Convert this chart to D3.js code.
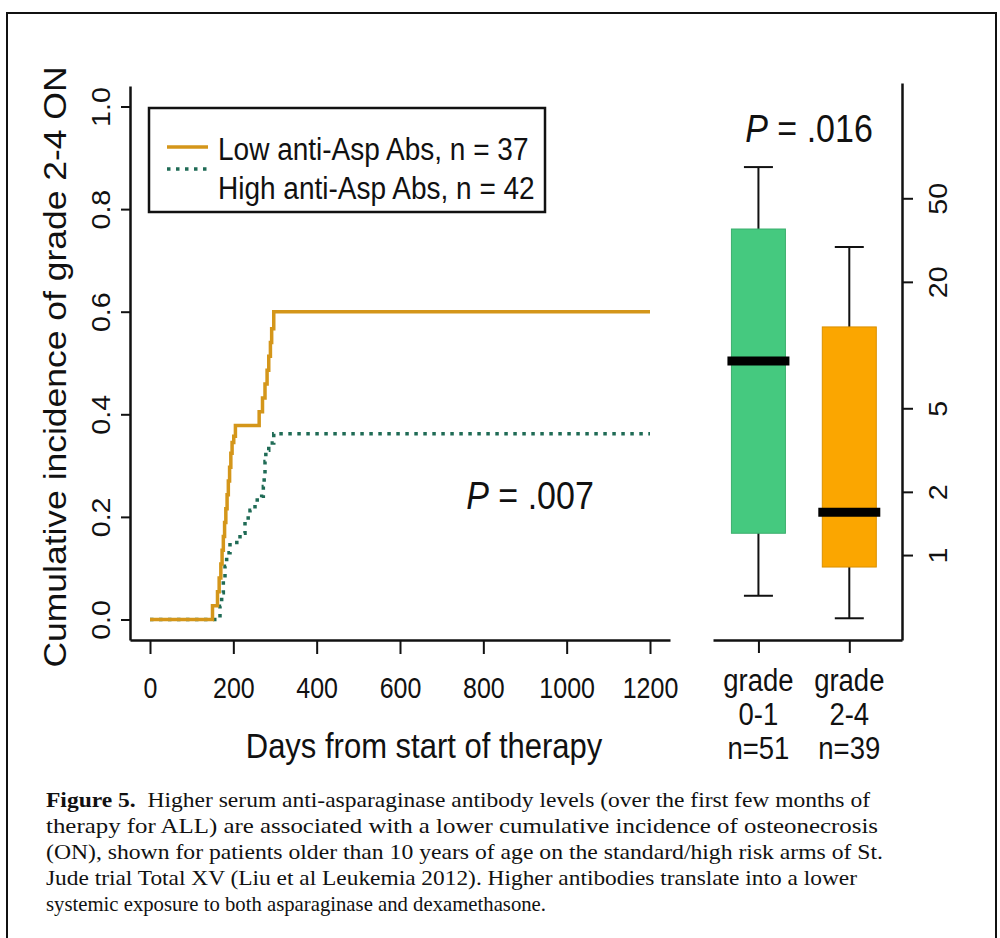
<!DOCTYPE html>
<html>
<head>
    <title>Osteonecrosis vs anti-asparaginase antibodies</title>
    <script src="https://d3js.org/d3.v7.min.js"></script>
    <style>
        body { margin: 0; background: #fff; }
        svg { display: block; }
        .sans { font-family: "Liberation Sans", Arial, sans-serif; fill: #111; }
        .serif { font-family: "Liberation Serif", "Times New Roman", serif; fill: #111; }
        .axis path, .axis line { stroke: #111; }
    </style>
</head>
<body>
<div id="chart"></div>
<script>
    // Cumulative incidence curves (days from start of therapy, cumulative incidence)
    const lowDays = [0, 150, 162, 166, 170, 173, 176, 179, 182, 185, 188, 191, 194, 197, 201, 205, 262, 270, 276, 281, 285, 289, 292, 297, 1200];
    const lowCI   = [0, 0.027, 0.054, 0.081, 0.108, 0.135, 0.162, 0.189, 0.216, 0.243, 0.270, 0.297, 0.324, 0.345, 0.357, 0.378, 0.405, 0.432, 0.459, 0.486, 0.513, 0.540, 0.567, 0.600, 0.600];
    const highDays = [0, 168, 172, 176, 180, 184, 192, 216, 228, 240, 252, 268, 272, 274, 276, 278, 285, 297, 1200];
    const highCI   = [0, 0.026, 0.052, 0.078, 0.104, 0.13, 0.15, 0.168, 0.198, 0.213, 0.233, 0.24, 0.259, 0.282, 0.308, 0.33, 0.344, 0.362, 0.362];
    const seriesNames = ["Low anti-Asp Abs, n = 37", "High anti-Asp Abs, n = 42"];

    const xTicks = [0, 200, 400, 600, 800, 1000, 1200];
    const yTicks = [0, 0.2, 0.4, 0.6, 0.8, 1.0];

    // box plot of antibody level by ON grade (log scale)
    const boxGroups = [["grade", "0-1", "n=51"], ["grade", "2-4", "n=39"]];
    const whiskerLow  = [0.64, 0.50];
    const boxQ1       = [1.27, 0.877];
    const boxMedian   = [8.4, 1.60];
    const boxQ3       = [35.7, 12.2];
    const whiskerHigh = [70.4, 29.3];
    const boxColors = ["#45c97f", "#fba600"];
    const logTicks = [1, 2, 5, 20, 50];

    const caption = [
        "Higher serum anti-asparaginase antibody levels (over the first few months of",
        "therapy for ALL) are associated with a lower cumulative incidence of osteonecrosis",
        "(ON), shown for patients older than 10 years of age on the standard/high risk arms of St.",
        "Jude trial Total XV (Liu et al Leukemia 2012). Higher antibodies translate into a lower",
        "systemic exposure to both asparaginase and dexamethasone."
    ];
    const captionWidths = [824, 832, 837, 811, 500];

    const width = 1000, height = 938;
    const S = 1.144; // the figure text is stretched vertically
    const svg = d3.select("#chart").append("svg")
        .attr("width", width).attr("height", height);

    // outer frame
    svg.append("rect")
        .attr("x", 7).attr("y", 13).attr("width", 989).attr("height", 940)
        .attr("fill", "none").attr("stroke", "#111").attr("stroke-width", 2);

    function label(txt, x0, y0, size, rot) {
        return svg.append("text").attr("class", "sans")
            .attr("font-size", size).attr("text-anchor", "middle")
            .attr("transform", `translate(${x0},${y0}) scale(1,${S})` + (rot ? " rotate(-90)" : ""))
            .text(txt);
    }

    // ---------- left panel ----------
    const x = d3.scaleLinear().domain([-48, 1248]).range([130, 670]);
    const y = d3.scaleLinear().domain([-0.04, 1.04]).range([640, 86]);

    const yAxis = svg.append("g").attr("class", "axis")
        .attr("transform", "translate(130,0)")
        .call(d3.axisLeft(y).tickValues(yTicks).tickSize(9).tickSizeOuter(0)
            .tickFormat(d3.format(".1f")));
    yAxis.select(".domain").attr("stroke-width", 2.5);
    yAxis.selectAll(".tick line").attr("stroke-width", 2);
    yAxis.selectAll(".tick text")
        .attr("class", "sans").attr("font-size", 25)
        .attr("x", 0).attr("y", -20).attr("dy", 0)
        .attr("text-anchor", "middle")
        .attr("transform", `scale(1,${S}) rotate(-90)`);

    const xAxis = svg.append("g").attr("class", "axis")
        .attr("transform", "translate(0,640)")
        .call(d3.axisBottom(x).tickValues(xTicks).tickSize(14).tickSizeOuter(0)
            .tickFormat(d3.format("d")));
    xAxis.select(".domain").attr("stroke-width", 2.5);
    xAxis.selectAll(".tick line").attr("stroke-width", 2);
    xAxis.selectAll(".tick text")
        .attr("class", "sans").attr("font-size", 25)
        .attr("y", 58 / S).attr("dy", 0)
        .attr("transform", `scale(1,${S})`);

    label("Days from start of therapy", 424, 758, 31, false);
    label("Cumulative incidence of grade 2-4 ON", 66, 367, 31, true);

    const step = d3.line().curve(d3.curveStepAfter)
        .x(d => x(d[0])).y(d => y(d[1]));

    svg.append("path")
        .datum(highDays.map((d, i) => [d, highCI[i]]))
        .attr("d", step).attr("fill", "none")
        .attr("stroke", "#1f6b55").attr("stroke-width", 3.5)
        .attr("stroke-dasharray", "3.5,5.5");

    svg.append("path")
        .datum(lowDays.map((d, i) => [d, lowCI[i]]))
        .attr("d", step).attr("fill", "none")
        .attr("stroke", "#d4961a").attr("stroke-width", 3.5);

    // legend
    const lg = svg.append("g");
    lg.append("rect").attr("x", 149).attr("y", 108).attr("width", 396).attr("height", 104)
        .attr("fill", "#fff").attr("stroke", "#111").attr("stroke-width", 2.5);
    lg.append("line").attr("x1", 167).attr("x2", 208).attr("y1", 147).attr("y2", 147)
        .attr("stroke", "#d4961a").attr("stroke-width", 3.5);
    lg.append("line").attr("x1", 167).attr("x2", 208).attr("y1", 169).attr("y2", 169)
        .attr("stroke", "#1f6b55").attr("stroke-width", 3.5).attr("stroke-dasharray", "3.5,5.5");
    seriesNames.forEach((d, i) => {
        label(d, 218, 160 + i * 39, 28, false).attr("text-anchor", "start");
    });

    label("", 530, 509, 34, false)
        .html('<tspan font-style="italic">P</tspan> = .007');

    // ---------- right panel ----------
    const bx = d3.scaleLinear().domain([0.5, 2.58]).range([713, 902]);
    const by = d3.scaleLog().domain([0.394, 177]).range([640, 83]);

    const rAxis = svg.append("g").attr("class", "axis")
        .attr("transform", "translate(902,0)")
        .call(d3.axisRight(by).tickValues(logTicks).tickSize(11).tickSizeOuter(0)
            .tickFormat(d3.format("d")));
    rAxis.select(".domain").attr("stroke-width", 2.5);
    rAxis.selectAll(".tick line").attr("stroke-width", 2);
    rAxis.selectAll(".tick text")
        .attr("class", "sans").attr("font-size", 25)
        .attr("x", 0).attr("y", 45).attr("dy", 0)
        .attr("text-anchor", "middle")
        .attr("transform", `scale(1,${S}) rotate(-90)`);

    const bAxis = svg.append("g").attr("class", "axis")
        .attr("transform", "translate(0,640)")
        .call(d3.axisBottom(bx).tickValues([1, 2]).tickSize(13).tickSizeOuter(0).tickFormat(""));
    bAxis.select(".domain").attr("stroke-width", 2.5);
    bAxis.selectAll(".tick line").attr("stroke-width", 2);

    const boxes = svg.append("g").selectAll("g").data(boxGroups).join("g");
    const half = 27, cap = 14.5;
    boxes.append("line")
        .attr("x1", (d, i) => bx(i + 1)).attr("x2", (d, i) => bx(i + 1))
        .attr("y1", (d, i) => by(whiskerLow[i])).attr("y2", (d, i) => by(whiskerHigh[i]))
        .attr("stroke", "#111").attr("stroke-width", 2);
    [whiskerLow, whiskerHigh].forEach(arr => {
        boxes.append("line")
            .attr("x1", (d, i) => bx(i + 1) - cap).attr("x2", (d, i) => bx(i + 1) + cap)
            .attr("y1", (d, i) => by(arr[i])).attr("y2", (d, i) => by(arr[i]))
            .attr("stroke", "#111").attr("stroke-width", 2);
    });
    boxes.append("rect")
        .attr("x", (d, i) => bx(i + 1) - half).attr("width", half * 2)
        .attr("y", (d, i) => by(boxQ3[i]))
        .attr("height", (d, i) => by(boxQ1[i]) - by(boxQ3[i]))
        .attr("fill", (d, i) => boxColors[i])
        .attr("stroke", (d, i) => d3.color(boxColors[i]).darker(0.4)).attr("stroke-width", 1);
    boxes.append("line")
        .attr("x1", (d, i) => bx(i + 1) - 31).attr("x2", (d, i) => bx(i + 1) + 31)
        .attr("y1", (d, i) => by(boxMedian[i])).attr("y2", (d, i) => by(boxMedian[i]))
        .attr("stroke", "#000").attr("stroke-width", 9);

    boxGroups.forEach((lines, i) => {
        lines.forEach((t, j) => label(t, bx(i + 1), 691 + j * 34, 27.5, false));
    });

    label("", 809, 142, 34, false)
        .html('<tspan font-style="italic">P</tspan> = .016');

    // ---------- caption ----------
    const capG = svg.append("g");
    caption.forEach((line, i) => {
        const t = capG.append("text").attr("class", "serif").attr("font-size", 22)
            .attr("x", 46).attr("y", 807 + i * 26)
            .attr("textLength", captionWidths[i]).attr("lengthAdjust", "spacingAndGlyphs");
        if (i === 0) {
            t.append("tspan").attr("font-weight", "bold").text("Figure 5.");
            t.append("tspan").text("\u00a0 " + line);
        } else {
            t.text(line);
        }
    });
</script>
</body>
</html>
